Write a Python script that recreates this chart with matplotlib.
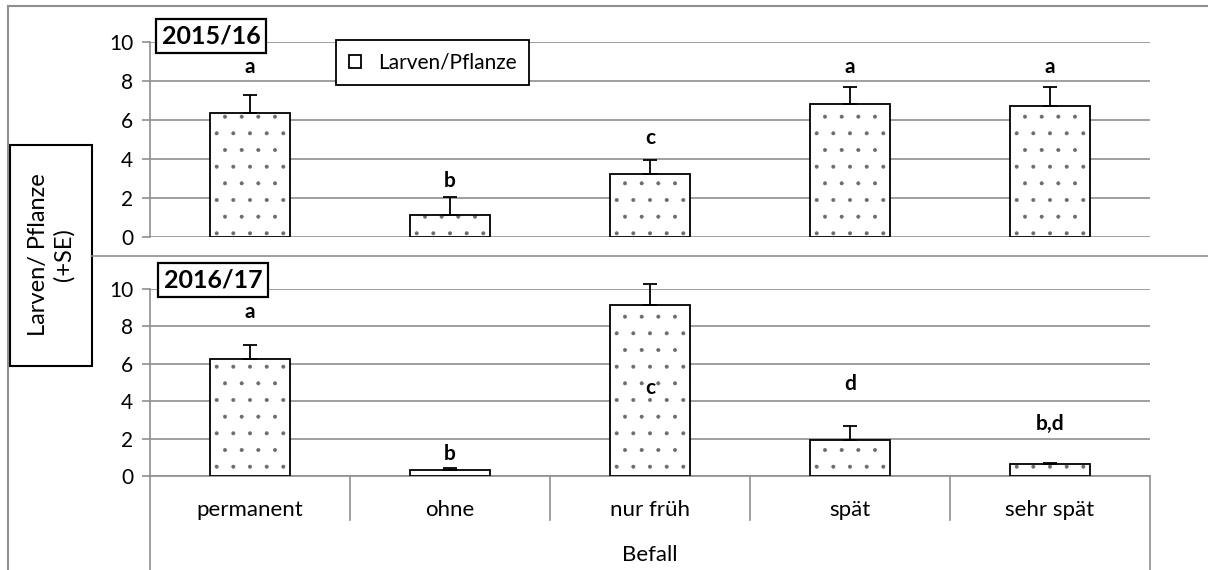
import matplotlib
matplotlib.use("Agg")
import matplotlib.pyplot as plt
import matplotlib.transforms as mtransforms
from matplotlib.patches import Rectangle
from matplotlib.lines import Line2D
import numpy as np

plt.rcParams['font.family'] = ['Lato', 'DejaVu Sans']
plt.rcParams['hatch.linewidth'] = 0.4

categories = ["permanent", "ohne", "nur früh", "spät", "sehr spät"]
years = ["2015/16", "2016/17"]
means_1516 = [6.35, 1.15, 3.25, 6.8, 6.7]
se_1516 = [0.95, 0.9, 0.7, 0.9, 1.0]
letters_1516 = ["a", "b", "c", "a", "a"]
letter_y_1516 = [8.7, 2.85, 5.1, 8.7, 8.7]
means_1617 = [6.25, 0.32, 9.15, 1.9, 0.62]
se_1617 = [0.75, 0.1, 1.1, 0.8, 0.08]
letters_1617 = ["a", "b", "c", "d", "b,d"]
letter_y_1617 = [8.75, 1.2, 4.7, 4.9, 2.8]
yticks = [0, 2, 4, 6, 8, 10]
xlabel = "Befall"
ylabel = "Larven/ Pflanze\n(+SE)"
legend_label = "Larven/Pflanze"

W, H = 1208, 570
fig = plt.figure(figsize=(W / 100, H / 100), dpi=100)

def fx(x):
    return x / W

def fy(y):
    return 1 - y / H

grid_c = '#8f8f8f'
dot_c = '#6a6a6a'
x = np.arange(len(categories))

def setup(ax, means, se, letters, ly, bottom_spine):
    ax.bar(x, means, width=0.4, color='white', edgecolor=dot_c,
           linewidth=0, hatch='.', zorder=3)
    bars = ax.bar(x, means, width=0.4, fill=False, edgecolor='black',
                  linewidth=1.3, zorder=3.5, label=legend_label)
    eb = ax.errorbar(x, means, yerr=[np.zeros(len(se)), se], fmt='none',
                     ecolor='black', elinewidth=1.3, capsize=5, capthick=1.3, zorder=4)
    for art in eb.lines[1] + eb.lines[2]:
        art.set_clip_on(False)
    for xi, l, yy in zip(x, letters, ly):
        ax.text(xi, yy, l, ha='center', va='center', fontsize=15,
                fontweight='bold', zorder=5)
    ax.set_xlim(-0.5, len(categories) - 0.5)
    ax.set_ylim(0, 10)
    ax.set_yticks(yticks)
    ax.yaxis.grid(True, color=grid_c, linewidth=1.2, zorder=0)
    ax.set_axisbelow(True)
    ax.set_xticks([])
    for s in ['top', 'right']:
        ax.spines[s].set_visible(False)
    ax.spines['left'].set_color(grid_c)
    ax.spines['left'].set_linewidth(1.2)
    ax.spines['bottom'].set_visible(bottom_spine)
    ax.spines['bottom'].set_color(grid_c)
    ax.spines['bottom'].set_linewidth(1.2)
    ax.tick_params(axis='y', colors=grid_c, length=6, width=1.2, pad=6,
                   labelcolor='black', labelsize=15)
    return bars

ax1 = fig.add_axes([fx(150), fy(237), fx(1000), 195 / H])
ax2 = fig.add_axes([fx(150), fy(476), fx(1000), 187 / H])
bars1 = setup(ax1, means_1516, se_1516, letters_1516, letter_y_1516, False)
bars2 = setup(ax2, means_1617, se_1617, letters_1617, letter_y_1617, True)
for ax in (ax1, ax2):
    ax.patch.set_visible(False)

# category axis separators
trans = mtransforms.blended_transform_factory(ax2.transData, ax2.transAxes)
bounds = np.arange(len(categories) + 1) - 0.5
for i, b in enumerate(bounds):
    outer = i == 0 or i == len(bounds) - 1
    ax2.plot([b, b], [0, -0.503 if outer else -0.235], transform=trans,
             color=grid_c, lw=1.2, clip_on=False)
for xi, c in zip(x, categories):
    ax2.text(xi, -0.18, c, transform=trans, ha='center', va='center', fontsize=16)
ax2.text(0.5, -0.42, xlabel, transform=ax2.transAxes, ha='center', va='center', fontsize=16)

# year boxes
for (cx, cy), yr in zip([(211, 36), (213, 280)], years):
    fig.text(fx(cx), fy(cy), yr, ha='center', va='center', fontsize=18,
             fontweight='bold',
             bbox=dict(boxstyle='square,pad=0.22', fc='white', ec='black', lw=1.6))

# legend
leg = fig.legend(handles=[bars1], labels=[legend_label], loc='upper left',
                 bbox_to_anchor=(fx(336), fy(40)), fontsize=15, fancybox=False,
                 edgecolor='black', framealpha=1, handlelength=0.6,
                 handleheight=0.6, borderpad=0.6, handletextpad=0.8,
                 borderaxespad=0)
leg.get_frame().set_linewidth(1.3)

# y-label box
fig.add_artist(Rectangle((fx(10), fy(366)), fx(82), 221 / H, transform=fig.transFigure,
                         fill=False, ec='black', lw=1.5))
fig.text(fx(51), fy(255), ylabel, rotation=90, ha='center', va='center',
         fontsize=17, multialignment='center', linespacing=1.25)

# outer frame lines
fig.add_artist(Line2D([fx(8), 1], [fy(6), fy(6)], color=grid_c, lw=1.5))
fig.add_artist(Line2D([fx(8), fx(8)], [fy(6), 0], color=grid_c, lw=1.5))
fig.add_artist(Line2D([fx(92), 1], [fy(256), fy(256)], color=grid_c, lw=1.2))

fig.savefig("out.png", dpi=100)
